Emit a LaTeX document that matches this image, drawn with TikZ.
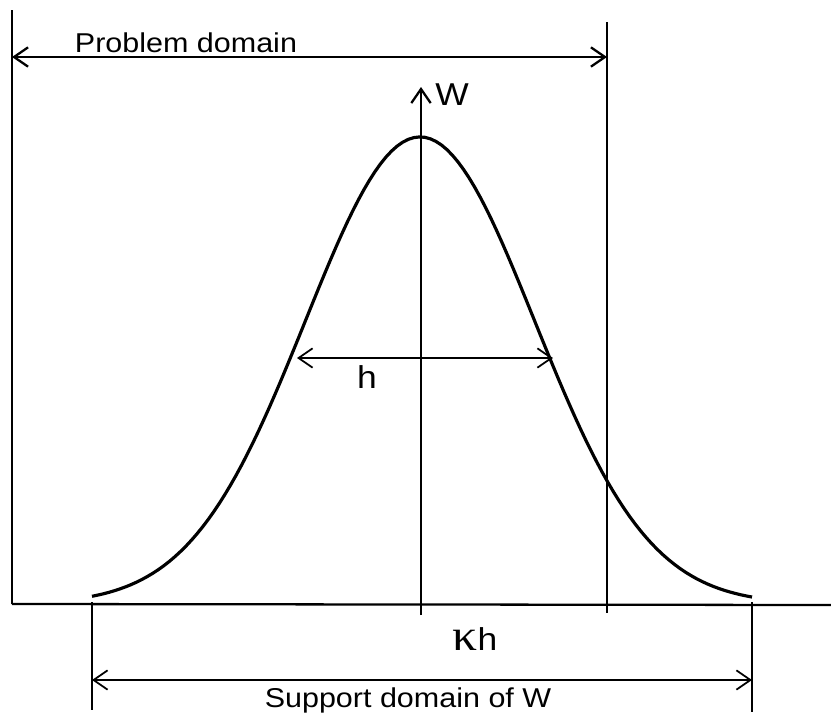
\documentclass[tikz,border=0pt]{standalone}
\usepackage{graphicx}
\usepackage{fontspec}
\setmainfont{Liberation Sans}
\newfontfamily\greekfont{Liberation Serif}
\usetikzlibrary{arrows.meta}
\newcommand{\widetext}[1]{\scalebox{1.12}[1]{#1}}

\begin{document}
\begin{tikzpicture}[x=0.02cm, y=-0.02cm, >={Straight Barb[length=8pt,width=11pt]}, every node/.style={font=\fontsize{15.5}{18}\selectfont, inner sep=0pt, anchor=base}]
\tikzstyle{frame}=[line width=1.3pt]
\tikzstyle{dim}=[line width=1pt]
\tikzstyle{curve}=[line width=1.8pt]
\tikzstyle{biglabel}=[font=\fontsize{18}{20}\selectfont]
\useasboundingbox (0,0) rectangle (831,717);
% problem domain
\coordinate (pdtop) at (12,10);
\coordinate (origin) at (12,604);
\coordinate (axisend) at (831,605);
\coordinate (pdrtop) at (607,22);
\coordinate (pdrbot) at (607,613);
\coordinate (pdl) at (12,57);
\coordinate (pdr) at (607,57);
\draw[frame] (pdtop) -- (origin);
\draw[frame] (origin) -- (axisend);
\draw[frame] (pdrtop) -- (pdrbot);
\draw[frame, <->] (pdl) -- (pdr);
\node (pdlabel) at (186,52) {\widetext{Problem domain}};
% weight function
\coordinate (wbot) at (421,615);
\coordinate (wtop) at (421,87);
\draw[frame, ->] (wbot) -- (wtop);
\node[biglabel] (wlabel) at (452,105) {\widetext{W}};
\draw[curve] plot[domain=92:752, samples=120] (\x, {604-467*exp(-((\x-420)/162)^2)});
% smoothing length
\coordinate (hl) at (297,358);
\coordinate (hr) at (553,358);
\draw[dim, <->] (hl) -- (hr);
\node[biglabel] (hlabel) at (367,388) {\widetext{h}};
% support domain
\coordinate (sdltop) at (92,602);
\coordinate (sdlbot) at (92,710);
\coordinate (sdrtop) at (752,602);
\coordinate (sdrbot) at (752,712);
\coordinate (sdl) at (92,680);
\coordinate (sdr) at (752,680);
\draw[frame] (sdltop) -- (sdlbot);
\draw[frame] (sdrtop) -- (sdrbot);
\draw[dim, <->] (sdl) -- (sdr);
\node[biglabel] (khlabel) at (475,650) {\widetext{\scalebox{1.4}{\greekfont κ}h}};
\node (sdlabel) at (408,707) {\widetext{Support domain of W}};
\end{tikzpicture}
\end{document}
